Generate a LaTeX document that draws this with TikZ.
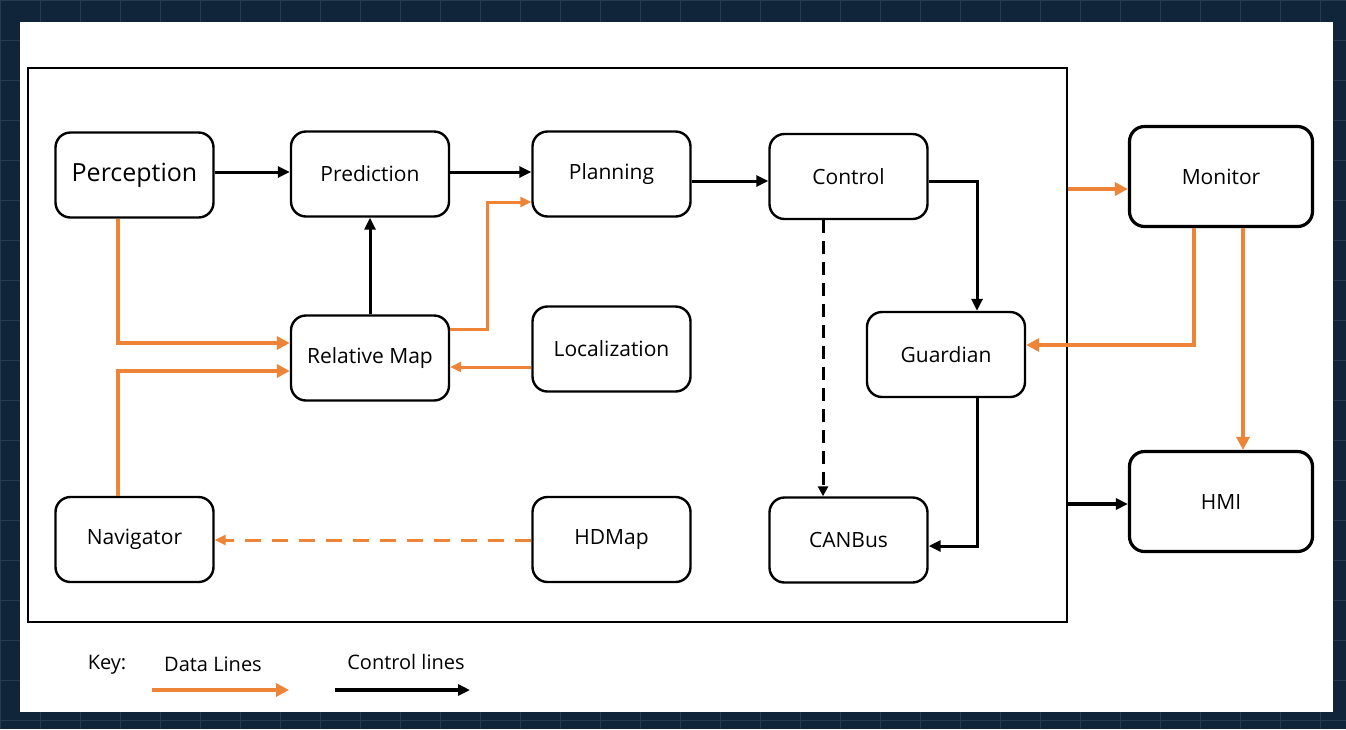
\documentclass[tikz,border=0pt]{standalone}
\usepackage{fontspec}
\setmainfont{Open Sans}
\usetikzlibrary{arrows.meta}
\definecolor{navy}{HTML}{10243A}
\definecolor{dorange}{HTML}{EE8437}
\tikzset{
  box/.style={draw=black, line width=2.4pt, rounded corners=15pt, fill=white,
    minimum width=158pt, minimum height=85pt, inner sep=0pt,
    font=\fontsize{21pt}{24pt}\selectfont},
  bigbox/.style={box, line width=3.2pt, minimum width=183pt, minimum height=100pt},
  ctl/.style={draw=black, line width=3pt, -{Triangle[length=12pt,width=11pt]}},
  dat/.style={draw=dorange, line width=4pt, -{Triangle[length=13pt,width=13pt]}},
  keytext/.style={font=\fontsize{20pt}{24pt}\selectfont, inner sep=0pt},
}
\begin{document}
\begin{tikzpicture}[x=1pt,y=-1pt]
\useasboundingbox (0,0) rectangle (1346,729);
\fill[navy] (0,0) rectangle (1346,729);
\foreach \i in {0,40,...,1346} {\draw[white!10!navy, line width=0.6pt] (\i,0) -- (\i,729);}
\foreach \j in {0,40,...,729} {\draw[white!10!navy, line width=0.6pt] (0,\j) -- (1346,\j);}
\fill[white] (20,22) rectangle (1333,712);
\node[draw=black, line width=1.5pt, minimum width=1039pt, minimum height=554pt, inner sep=0pt] (frame) at (547.5,345) {};

\node[box, font=\fontsize{25pt}{28pt}\selectfont] (perc) at (134.5,175) {Perception};
\node[box] (pred) at (370,174) {Prediction};
\node[box] (plan) at (611.5,174) {Planning};
\node[box] (ctrl) at (848.5,176.5) {Control};
\node[box] (rmap) at (370,358) {Relative Map};
\node[box] (loc) at (611.5,349) {Localization};
\node[box] (guard) at (946,354.5) {Guardian};
\node[box] (nav) at (134.5,539.5) {Navigator};
\node[box] (hd) at (611.5,539.5) {HDMap};
\node[box] (can) at (848.5,540) {CANBus};
\node[bigbox] (mon) at (1221,176.5) {Monitor};
\node[bigbox] (hmi) at (1221,501.5) {HMI};

% control lines
\draw[ctl] (perc.east |- 0,172) -- (pred.west |- 0,172);
\draw[ctl] (pred.east |- 0,172) -- (plan.west |- 0,172);
\draw[ctl] (plan.east |- 0,181) -- (ctrl.west |- 0,181);
\draw[ctl] (ctrl.east |- 0,181) -- (977,181) -- (977,0 |- guard.north);
\draw[ctl] (977,0 |- guard.south) -- (977,546) -- (can.east |- 0,546);
\draw[ctl, dashed, dash pattern=on 13pt off 8pt, -{Triangle[length=10pt,width=10pt]}] (823,0 |- ctrl.south) -- (823,0 |- can.north);
\draw[ctl] (370,0 |- rmap.north) -- (370,0 |- pred.south);
\coordinate (fe2) at (frame.east |- 0,504);
\draw[ctl, line width=4pt] (fe2) -- (hmi.west |- 0,504);

% data lines
\draw[dat] (118,0 |- perc.south) -- (118,343) -- (rmap.west |- 0,343);
\draw[dat] (118,0 |- nav.north) -- (118,371) -- (rmap.west |- 0,371);
\draw[dat, line width=3pt, -{Triangle[length=11pt,width=10pt]}] (rmap.east |- 0,329) -- (487,329) -- (487,202) -- (plan.west |- 0,202);
\draw[dat, line width=3pt, -{Triangle[length=11pt,width=10pt]}] (loc.west |- 0,367) -- (rmap.east |- 0,367);
\draw[dat, line width=3pt, dash pattern=on 16pt off 11pt, -{Triangle[length=11pt,width=10pt]}] (hd.west |- 0,540) -- (nav.east |- 0,540);
\coordinate (fe1) at (frame.east |- 0,189);
\draw[dat] (fe1) -- (mon.west |- 0,189);
\draw[dat] (1194,0 |- mon.south) -- (1194,345) -- (guard.east |- 0,345);
\draw[dat] (1243,0 |- mon.south) -- (1243,0 |- hmi.north);

% key
\node[keytext] (key) at (107,665) {Key:};
\node[keytext] (dl) at (213,664) {Data Lines};
\node[keytext] (cl) at (406,662) {Control lines};
\coordinate (k1a) at (152,690);
\coordinate (k1b) at (289,690);
\coordinate (k2a) at (335,690);
\coordinate (k2b) at (470,690);
\draw[dat] (k1a) -- (k1b);
\draw[ctl, line width=4pt] (k2a) -- (k2b);
\end{tikzpicture}
\end{document}
